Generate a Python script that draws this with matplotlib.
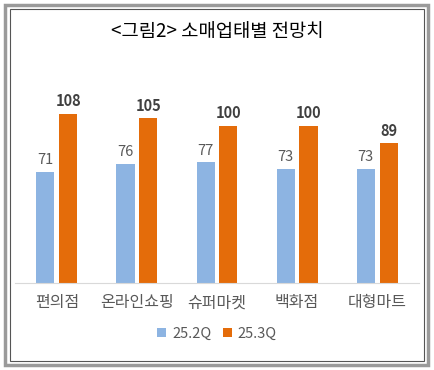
import matplotlib.pyplot as plt
import numpy as np
from matplotlib.patches import Rectangle

plt.rcParams['font.family'] = ['Noto Sans CJK KR', 'DejaVu Sans']

categories = ['편의점', '온라인쇼핑', '슈퍼마켓', '백화점', '대형마트']
q2_values = [71, 76, 77, 73, 73]
q3_values = [108, 105, 100, 100, 89]
series_labels = ['25.2Q', '25.3Q']
title = '<그림2> 소매업태별 전망치'

blue = '#8DB4E2'
orange = '#E46C0A'
text_gray = '#595959'

fig = plt.figure(figsize=(4.34, 3.70), dpi=100)

# double frame around the whole figure
fig.patches.append(Rectangle((0.012, 0.014), 0.975, 0.972, transform=fig.transFigure,
                             fill=False, edgecolor='#9a9a9a', linewidth=2.5))
fig.patches.append(Rectangle((0.022, 0.024), 0.955, 0.952, transform=fig.transFigure,
                             fill=False, edgecolor='#555555', linewidth=0.8))

fig.text(0.5, 0.915, title, ha='center', va='center', fontsize=13.5, color='black')

ax = fig.add_axes([0.035, 0.235, 0.93, 0.53])
x = np.arange(len(categories))
w = 0.225
gap = 0.03
b1 = ax.bar(x - w / 2 - gap, q2_values, w, color=blue, label=series_labels[0])
b2 = ax.bar(x + w / 2 + gap, q3_values, w, color=orange, label=series_labels[1])

for rect, v in zip(b1, q2_values):
    ax.text(rect.get_x() + rect.get_width() / 2, v + 3, str(v), ha='center', va='bottom',
            fontsize=10.5, color=text_gray)
for rect, v in zip(b2, q3_values):
    ax.text(rect.get_x() + rect.get_width() / 2, v + 3, str(v), ha='center', va='bottom',
            fontsize=10.5, color='#404040', fontweight='bold')

ax.set_xlim(-0.52, 4.52)
ax.set_ylim(0, 125)
ax.set_xticks(x)
ax.set_xticklabels(categories, fontsize=11.5, color=text_gray)
ax.tick_params(axis='x', length=0, pad=8)
ax.set_yticks([])
for s in ['top', 'right', 'left']:
    ax.spines[s].set_visible(False)
ax.spines['bottom'].set_color('#d9d9d9')

ax.legend(loc='upper center', bbox_to_anchor=(0.5, -0.155), ncol=2, frameon=False,
          fontsize=10.5, labelcolor=text_gray, handlelength=0.6, handleheight=0.6,
          handletextpad=0.4, columnspacing=0.8)

fig.savefig('out.png', dpi=100)
